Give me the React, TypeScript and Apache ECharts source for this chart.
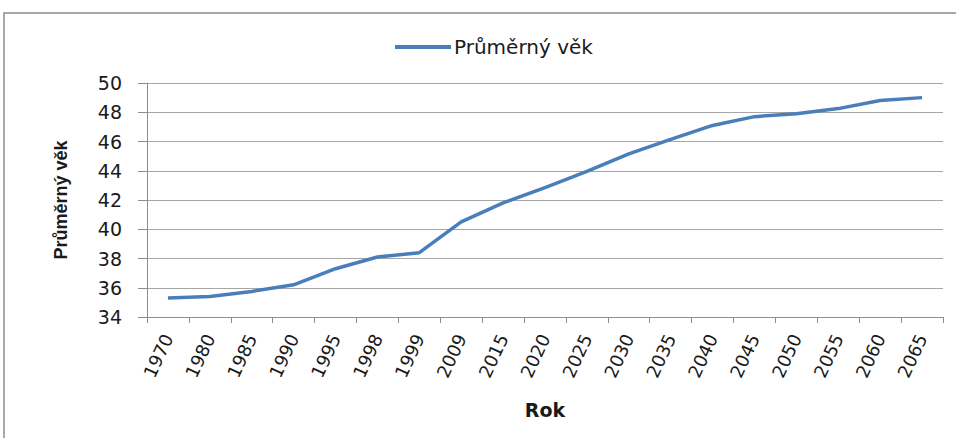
import React, { useEffect, useRef } from "react";
import * as echarts from "echarts";

const years = ["1970", "1980", "1985", "1990", "1995", "1998", "1999", "2009", "2015", "2020", "2025", "2030", "2035", "2040", "2045", "2050", "2055", "2060", "2065"];
const averageAge = [35.3, 35.4, 35.75, 36.2, 37.3, 38.1, 38.4, 40.5, 41.8, 42.85, 43.95, 45.15, 46.15, 47.1, 47.7, 47.9, 48.25, 48.8, 49.0];
const seriesName = "Průměrný věk";
const yTicks = { min: 34, max: 50, interval: 2 };

const FONT = "DejaVu Sans";

export default function App() {
  const ref = useRef<HTMLDivElement>(null);
  useEffect(() => {
    document.body.style.margin = "0";
    const chart = echarts.init(ref.current!, null, { renderer: "svg" });
    chart.setOption({
      animation: false,
      backgroundColor: "#ffffff",
      textStyle: { fontFamily: FONT },
      graphic: [
        {
          type: "rect",
          shape: { x: 4, y: 13, width: 970, height: 450 },
          style: { fill: "none", stroke: "#8c8c8c", lineWidth: 1.5 },
          silent: true,
          z: -1,
        },
      ],
      legend: {
        top: 32,
        left: 390,
        itemWidth: 56,
        itemHeight: 4,
        icon: "rect",
        data: [seriesName],
        textStyle: { fontFamily: FONT, fontSize: 20, color: "#1a1a1a", padding: [0, 0, 0, -2] },
      },
      grid: { left: 147, right: 13, top: 83, bottom: 121, containLabel: false },
      xAxis: {
        type: "category",
        data: years,
        boundaryGap: true,
        name: "Rok",
        nameLocation: "middle",
        nameGap: 83,
        nameTextStyle: { fontFamily: FONT, fontSize: 19, fontWeight: "bold", color: "#1a1a1a" },
        axisLine: { lineStyle: { color: "#8c8c8c", width: 1 } },
        axisTick: { show: true, length: 6, alignWithLabel: false, lineStyle: { color: "#8c8c8c" } },
        axisLabel: { rotate: 65, margin: 18, fontFamily: FONT, fontSize: 18, color: "#1a1a1a", interval: 0 },
        splitLine: { show: false },
      },
      yAxis: {
        type: "value",
        min: yTicks.min,
        max: yTicks.max,
        interval: yTicks.interval,
        name: seriesName,
        nameLocation: "middle",
        nameGap: 77,
        nameTextStyle: { fontFamily: "Liberation Sans", fontSize: 18, fontWeight: "bold", color: "#1a1a1a" },
        axisLine: { show: true, lineStyle: { color: "#8c8c8c", width: 1 } },
        axisTick: { show: true, length: 9, lineStyle: { color: "#8c8c8c" } },
        axisLabel: { margin: 25, fontFamily: FONT, fontSize: 19, color: "#1a1a1a" },
        splitLine: { show: true, lineStyle: { color: "#a6a6a6", width: 1.2 } },
      },
      series: [
        {
          name: seriesName,
          type: "line",
          data: averageAge,
          symbol: "none",
          lineStyle: { color: "#4a7ebb", width: 3.5 },
          itemStyle: { color: "#4a7ebb" },
        },
      ],
    });
    return () => chart.dispose();
  }, []);
  return <div ref={ref} style={{ width: 956, height: 438 }} />;
}
